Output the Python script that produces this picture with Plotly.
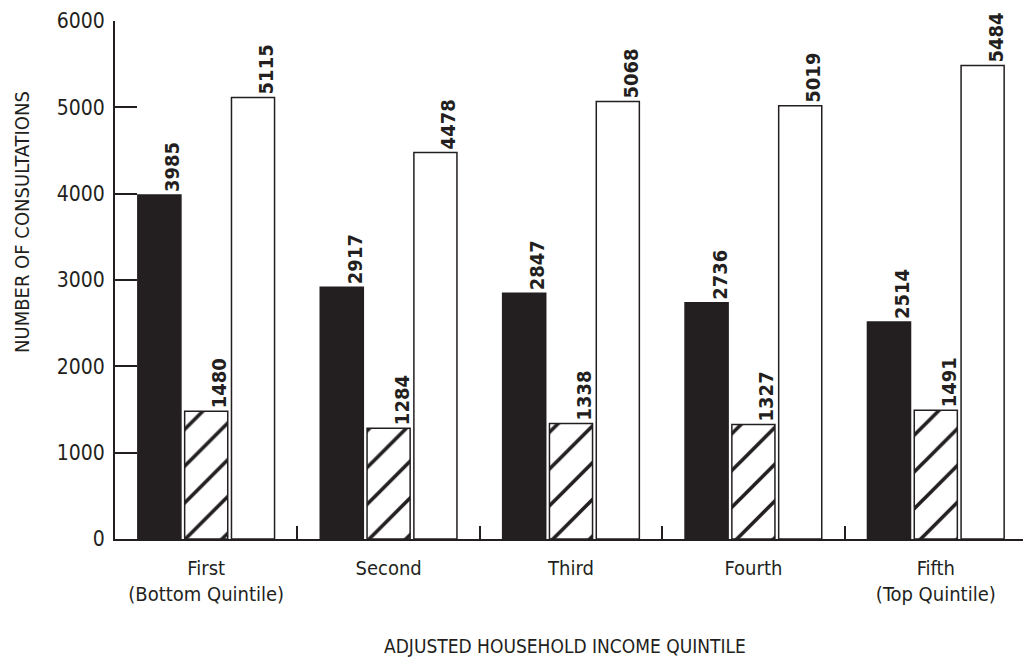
import plotly.graph_objects as go

categories = ["First<br>(Bottom Quintile)", "Second", "Third", "Fourth", "Fifth<br>(Top Quintile)"]
series_black = [3985, 2917, 2847, 2736, 2514]
series_hatched = [1480, 1284, 1338, 1327, 1491]
series_white = [5115, 4478, 5068, 5019, 5484]
y_ticks = [0, 1000, 2000, 3000, 4000, 5000, 6000]

INK = "#231f20"
FONT = "DejaVu Sans Condensed, Liberation Sans Narrow, Roboto, sans-serif"
LABEL_FONT = dict(family=FONT, size=20, color=INK, weight="bold")


def labels(values):
    # blank leading line shifts the rotated label toward the bar's right edge
    return ["\u00a0<br>" + str(v) for v in values]


fig = go.Figure()
common = dict(textposition="outside", textangle=-90, cliponaxis=False,
              constraintext="none", textfont=LABEL_FONT, hoverinfo="skip")

fig.add_trace(go.Bar(x=categories, y=series_black, text=labels(series_black),
                     marker=dict(color=INK, line=dict(color=INK, width=1.5)), **common))
fig.add_trace(go.Bar(x=categories, y=series_hatched, text=labels(series_hatched),
                     marker=dict(color="white", line=dict(color=INK, width=1.5),
                                 pattern=dict(shape="/", fgcolor=INK, bgcolor="white",
                                              fgopacity=1, size=26, solidity=0.14,
                                              fillmode="replace")),
                     **common))
fig.add_trace(go.Bar(x=categories, y=series_white, text=labels(series_white),
                     marker=dict(color="white", line=dict(color=INK, width=1.5)), **common))

fig.update_layout(
    width=1023, height=658,
    margin=dict(l=107, r=4, t=13, b=127, autoexpand=False),
    paper_bgcolor="white", plot_bgcolor="white",
    showlegend=False,
    barmode="group", bargap=0.23, bargroupgap=0.08,
    font=dict(family=FONT, color=INK, size=20),
    xaxis=dict(showline=True, linecolor=INK, linewidth=2, ticks="inside", tickson="boundaries",
               ticklen=13, tickwidth=2, tickcolor=INK, showgrid=False, automargin=False,
               tickfont=dict(family=FONT, size=20, color=INK), ticklabelstandoff=10),
    yaxis=dict(range=[0, 6000], tickvals=y_ticks, showline=True, linecolor=INK, linewidth=2,
               ticks="inside", ticklen=22, tickwidth=2, tickcolor=INK, showgrid=False,
               zeroline=False, tickfont=dict(family=FONT, size=21, color=INK), ticklabelstandoff=4,
               ticklabeloverflow="allow", automargin=False),
    annotations=[
        dict(text="NUMBER OF CONSULTATIONS", xref="paper", yref="paper", x=-0.102, y=0.612,
             xanchor="center", yanchor="middle", textangle=-90, showarrow=False,
             font=dict(family=FONT, size=20, color=INK)),
        dict(text="ADJUSTED HOUSEHOLD INCOME QUINTILE", xref="paper", yref="paper", x=0.493, y=-0.207,
             xanchor="center", yanchor="middle", showarrow=False,
             font=dict(family=FONT, size=19, color=INK)),
    ],
)

fig.write_html("out.html")
